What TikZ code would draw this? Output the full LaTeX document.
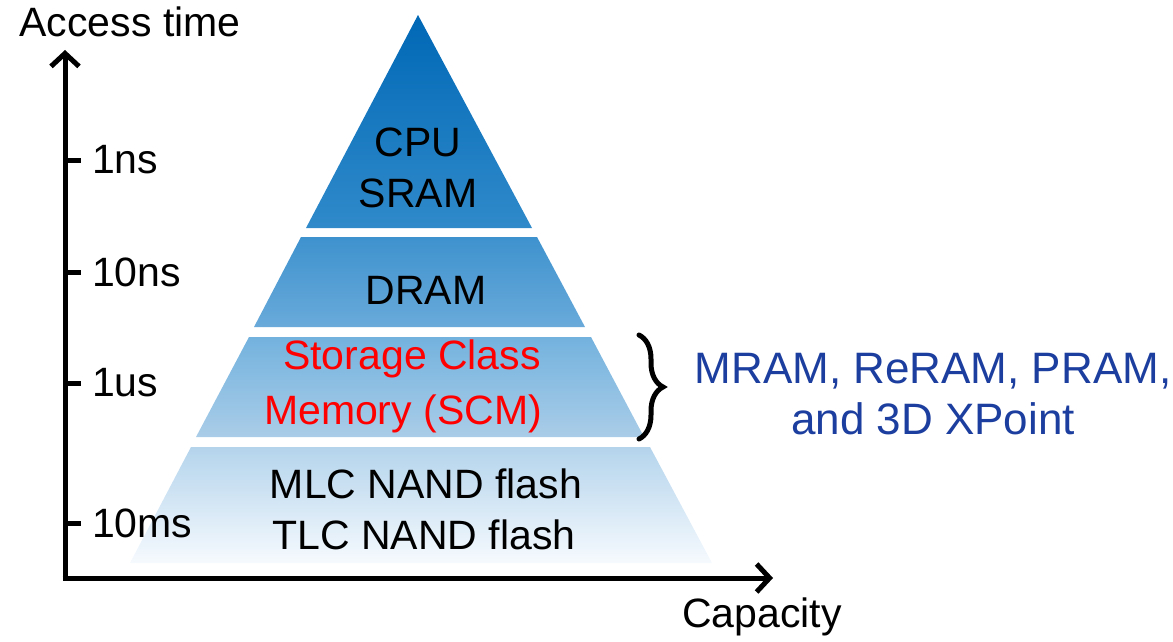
\documentclass[tikz,border=0pt]{standalone}
\usepackage{fontspec}
\setmainfont{Liberation Sans}
\usetikzlibrary{arrows.meta,decorations.pathreplacing}
\definecolor{c0}{RGB}{0,104,182}
\definecolor{c1}{RGB}{48,138,202}
\definecolor{c2}{RGB}{62,146,206}
\definecolor{c3}{RGB}{105,170,218}
\definecolor{c4}{RGB}{115,178,222}
\definecolor{c5}{RGB}{170,205,232}
\definecolor{c6}{RGB}{180,212,236}
\definecolor{c7}{RGB}{246,250,254}
\definecolor{scmred}{RGB}{255,0,0}
\definecolor{navy}{RGB}{28,62,158}
\begin{document}
\begin{tikzpicture}[x=1pt,y=-1pt,
  lbl/.style={font=\fontsize{41}{46}\selectfont, inner sep=0pt, text=black},
  axisline/.style={line width=5pt, -{Straight Barb[length=13pt,width=28pt,line width=5pt]}},
  tick/.style={line width=5pt}]
\useasboundingbox (0,0) rectangle (1173,642);
% pyramid layers
\shade[top color=c0,bottom color=c1] (418,15) -- (532,228) -- (306,228) -- cycle;
\shade[top color=c2,bottom color=c3] (301,237) -- (537,237) -- (585,327) -- (254,327) -- cycle;
\shade[top color=c4,bottom color=c5] (249,337) -- (591,337) -- (644,437) -- (196,437) -- cycle;
\shade[top color=c6,bottom color=c7] (191,447) -- (650,447) -- (712,563) -- (130,563) -- cycle;
% layer texts
\node[lbl] (cpu) at (418,142) {CPU};
\node[lbl] (sram) at (418,193) {SRAM};
\node[lbl] (dram) at (426,290) {DRAM};
\node[lbl,text=scmred] (scm1) at (412,359) {Storage Class};
\node[lbl,text=scmred] (scm2) at (403,414) {Memory (SCM)};
\node[lbl] (mlc) at (426,484) {MLC NAND flash};
\node[lbl] (tlc) at (424,535) {TLC NAND flash};
% axes
\coordinate (origin) at (65,578);
\coordinate (ytip) at (65,50);
\coordinate (xtip) at (773,578);
\draw[axisline] (65,580.5) -- (ytip);
\draw[axisline] (62.5,578) -- (xtip);
\node[lbl] (atime) at (130,22) {Access time};
\node[lbl] (cap) at (762,617) {Capacity};
% ticks
\foreach \yy/\txt/\nm in {160/1ns/t1, 272/10ns/t2, 383/1us/t3, 523/10ms/t4}{
  \coordinate (\nm a) at (65,\yy);
  \coordinate (\nm b) at (81,\yy);
  \draw[tick] (\nm a) -- (\nm b);
  \node[lbl,anchor=west] (\nm l) at (92,\yy) {\txt};
}
% brace
\coordinate (bt) at (639,335);
\coordinate (bb) at (639,439);
\draw[line width=5pt, line cap=round, decorate, decoration={brace,amplitude=24pt,aspect=0.5}] (bt) -- (bb);
\node[lbl,text=navy,font=\fontsize{44}{50}\selectfont] (mr1) at (933,371) {MRAM, ReRAM, PRAM,};
\node[lbl,text=navy,font=\fontsize{44}{50}\selectfont] (mr2) at (933,419) {and 3D XPoint};
\end{tikzpicture}
\end{document}
